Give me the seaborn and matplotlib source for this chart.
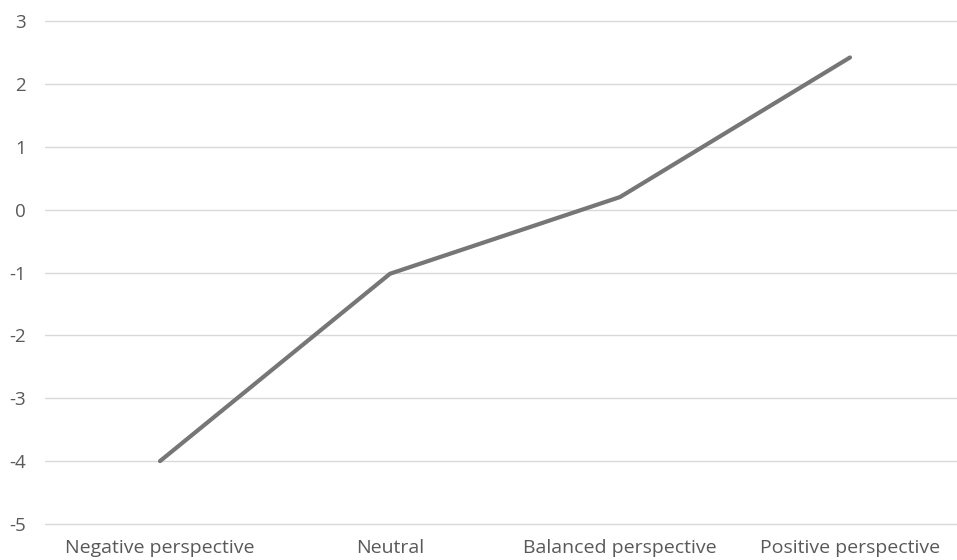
import matplotlib
matplotlib.use('Agg')
import matplotlib.pyplot as plt
import seaborn as sns
import pandas as pd

# values
categories = ['Negative perspective', 'Neutral', 'Balanced perspective', 'Positive perspective']
scores = [-4.0, -1.02, 0.2, 2.42]
y_ticks = [-5, -4, -3, -2, -1, 0, 1, 2, 3]

df = pd.DataFrame({'perspective': categories, 'score': scores})

sns.set_theme(style='white')
plt.rcParams['font.family'] = ['Open Sans', 'DejaVu Sans']

fig = plt.figure(figsize=(9.57, 5.6), dpi=100)
# left edge of grid at ~45px, category spacing ~230px (plot runs a bit past the right edge)
ax = fig.add_axes([45 / 957, 36 / 560, 920 / 957, 503 / 560])

sns.lineplot(data=df, x='perspective', y='score', ax=ax, color='#767676',
             linewidth=3, solid_capstyle='round', sort=False)

ax.set_xlim(-0.5, 3.5)
ax.set_ylim(-5, 3)
ax.set_yticks(y_ticks)
ax.set_yticklabels([str(v) for v in y_ticks])
ax.grid(axis='y', color='#d9d9d9', linewidth=1)
for gl in ax.get_ygridlines():
    gl.set_clip_on(False)
ax.set_axisbelow(True)
for s in ax.spines.values():
    s.set_visible(False)
ax.set_xlabel('')
ax.set_ylabel('')
ax.tick_params(axis='y', length=0, pad=14, labelsize=13.5, labelcolor='#595959')
ax.tick_params(axis='x', length=0, pad=11, labelsize=14, labelcolor='#595959')

fig.savefig('out.png', dpi=100, facecolor='white')
